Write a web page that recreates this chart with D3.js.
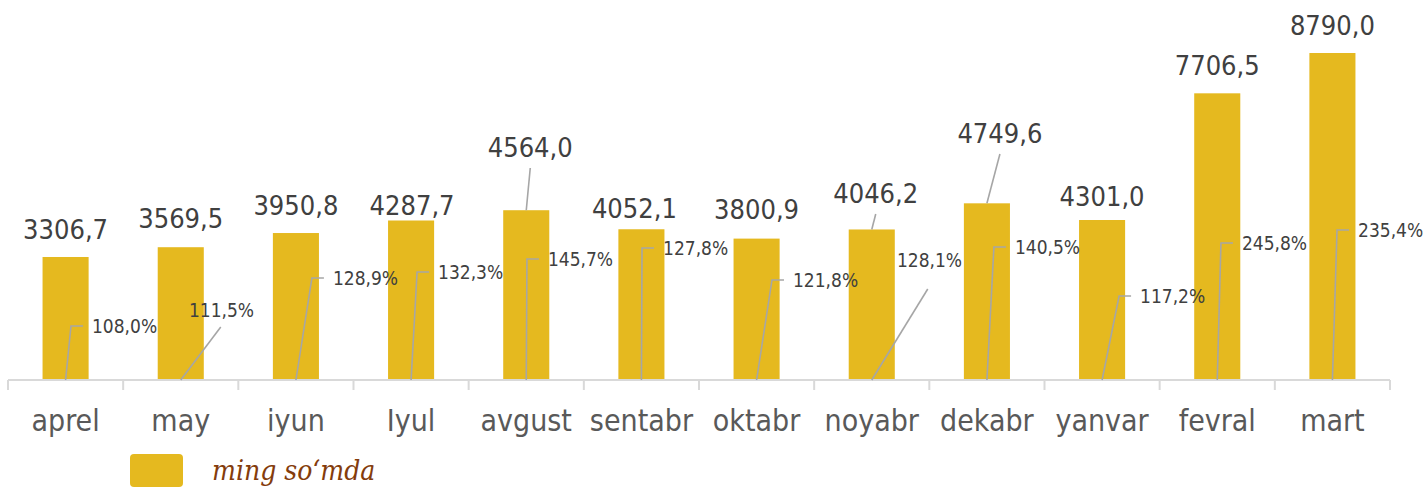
<!DOCTYPE html>
<html>
<head>
<meta charset="utf-8">
<script src="https://cdn.jsdelivr.net/npm/d3@7/dist/d3.min.js"></script>
<style>
  html, body { margin: 0; padding: 0; background: #ffffff; }
  svg { display: block; }
</style>
</head>
<body>
<div id="chart"></div>
<script>
// ---- data ----
const categories = ["aprel", "may", "iyun", "Iyul", "avgust", "sentabr", "oktabr", "noyabr", "dekabr", "yanvar", "fevral", "mart"];
const values = [3306.7, 3569.5, 3950.8, 4287.7, 4564.0, 4052.1, 3800.9, 4046.2, 4749.6, 4301.0, 7706.5, 8790.0];
const percents = [108.0, 111.5, 128.9, 132.3, 145.7, 127.8, 121.8, 128.1, 140.5, 117.2, 245.8, 235.4];
const legendLabel = "ming so\u2018mda";

// ---- label layout ----
const valueLabelDx = [0, 0, 0, 1, 4, -7, 0, 4, 13, 0, 0, 0];
const valueLabelY = [239, 228, 215, 215, 157, 218, 219, 203, 143, 206, 75, 35];
const valueLeader = [false, false, false, false, true, false, false, true, true, false, false, false];
const pctLabelDx = [26.4, 8.2, 37, 27, 21.7, 21.6, 36.4, 25.2, 28, 38, 24.7, 25.6];
const pctLabelY = [326, 310, 278, 272, 259, 248, 280, 260, 247, 296, 243, 230];
const pctLeaderEnd = [null, [40, 327], null, null, null, null, null, [56, 289], null, null, null, null];

const W = 1428, H = 488;
const barColor = "#E5B91F";
const leaderColor = "#A6A6A6";
const axisColor = "#D9D9D9";
const fontSans = "'DejaVu Sans Condensed', 'DejaVu Sans', sans-serif";

const svg = d3.select("#chart").append("svg").attr("width", W).attr("height", H);

const x = d3.scaleBand().domain(categories).range([8, 1390]).paddingInner(0.6).paddingOuter(0.3);
const y = d3.scaleLinear().domain([0, 10000]).range([380, 8]);
const cx = (i) => x(categories[i]) + x.bandwidth() / 2;
const fmt = (v, d) => d3.format("." + d + "f")(v).replace(".", ",");

// bars
svg.append("g").selectAll("rect").data(values).join("rect")
  .attr("x", (d, i) => x(categories[i]))
  .attr("y", d => y(d))
  .attr("width", x.bandwidth())
  .attr("height", d => y(0) - y(d))
  .attr("fill", barColor);

// axis
const axisG = svg.append("g");
axisG.append("line").attr("x1", 8).attr("x2", 1390).attr("y1", y(0)).attr("y2", y(0))
  .attr("stroke", axisColor).attr("stroke-width", 2);
const step = x.step();
const tickXs = d3.range(categories.length + 1).map(k => 8 + k * step);
axisG.selectAll("line.tick").data(tickXs).join("line").attr("class", "tick")
  .attr("x1", d => d).attr("x2", d => d).attr("y1", y(0)).attr("y2", y(0) + 10)
  .attr("stroke", axisColor).attr("stroke-width", 2);
axisG.selectAll("text").data(categories).join("text")
  .attr("x", (d, i) => cx(i)).attr("y", 431)
  .attr("text-anchor", "middle")
  .attr("font-family", fontSans).attr("font-size", 30)
  .attr("fill", "#595959")
  .text(d => d);

// percent leader lines
const pctG = svg.append("g");
percents.forEach((p, i) => {
  const c = cx(i);
  const left = c + pctLabelDx[i];
  const ly = pctLabelY[i];
  let path;
  if (pctLeaderEnd[i]) {
    path = `M${c},${y(0)} L${c + pctLeaderEnd[i][0]},${pctLeaderEnd[i][1]}`;
  } else {
    path = `M${c},${y(0)} L${left - 21},${ly} L${left - 9},${ly}`;
  }
  pctG.append("path").attr("d", path).attr("fill", "none")
    .attr("stroke", leaderColor).attr("stroke-width", 1.6);
  pctG.append("text")
    .attr("x", left).attr("y", ly).attr("dy", "0.35em")
    .attr("font-family", fontSans).attr("font-size", 19)
    .attr("fill", "#404040")
    .text(fmt(p, 1) + "%");
});

// value labels
const valG = svg.append("g");
values.forEach((v, i) => {
  const c = cx(i);
  const lx = c + valueLabelDx[i];
  const by = valueLabelY[i];
  if (valueLeader[i]) {
    valG.append("line")
      .attr("x1", lx).attr("y1", by + 11)
      .attr("x2", c).attr("y2", y(v))
      .attr("stroke", leaderColor).attr("stroke-width", 1.6);
  }
  valG.append("text")
    .attr("x", lx).attr("y", by)
    .attr("text-anchor", "middle")
    .attr("font-family", fontSans).attr("font-size", 27)
    .attr("fill", "#404040")
    .text(fmt(v, 1));
});

// legend
const lg = svg.append("g");
lg.append("rect").attr("x", 130).attr("y", 454).attr("width", 53).attr("height", 33)
  .attr("rx", 4).attr("fill", barColor);
lg.append("text").attr("x", 212).attr("y", 480)
  .attr("font-family", "'DejaVu Serif Condensed', 'DejaVu Serif', serif")
  .attr("font-style", "italic").attr("font-size", 28)
  .attr("fill", "#843C0C")
  .text(legendLabel);
</script>
</body>
</html>
